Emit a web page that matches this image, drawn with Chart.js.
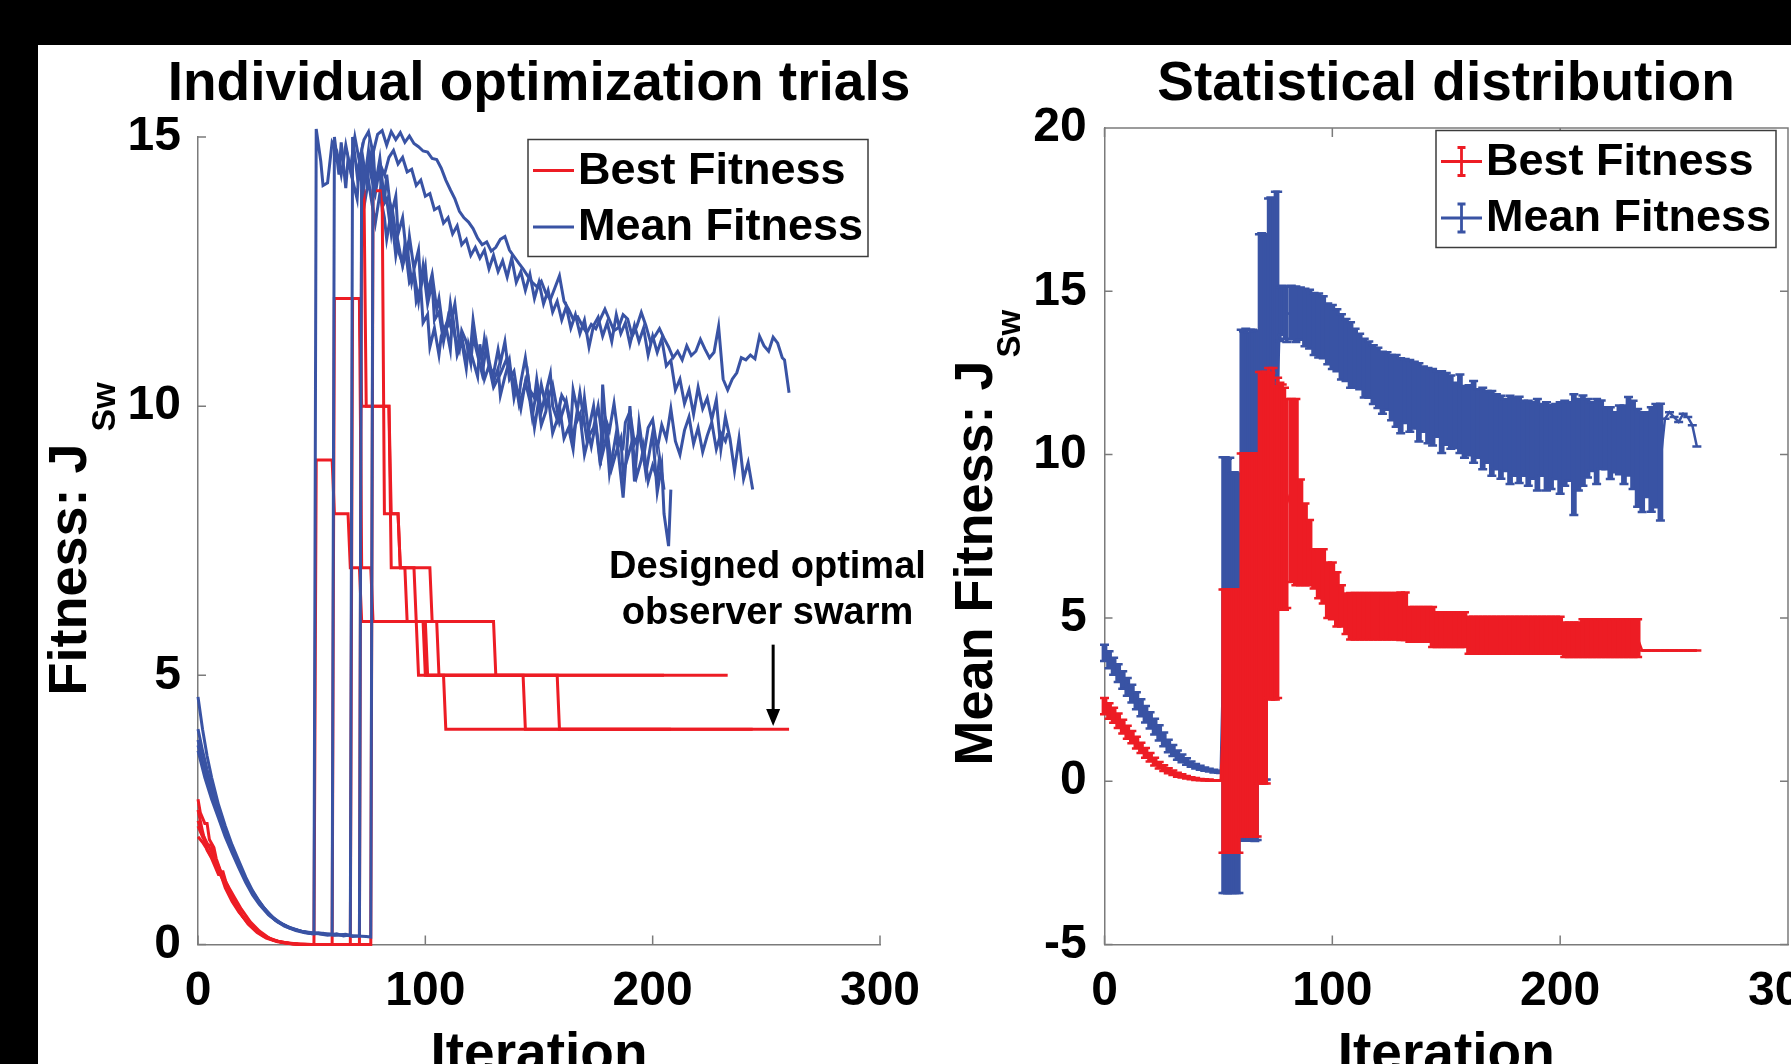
<!DOCTYPE html>
<html>
<head>
<meta charset="utf-8">
<title>Individual optimization trials / Statistical distribution</title>
<script src="https://cdn.jsdelivr.net/npm/chart.js@4.4.1/dist/chart.umd.min.js"></script>
<style>
  html, body { margin: 0; padding: 0; overflow: hidden; background: #000; }
  body { width: 1791px; height: 1064px; position: relative; }
  #paper { position: absolute; left: 38px; top: 45px; width: 1753px; height: 1019px; background: #fff; }
  #leftBox { position: absolute; left: 38px; top: 45px; }
  #rightBox { position: absolute; left: 930px; top: 45px; }
  canvas { display: block; }
</style>
</head>
<body>
<div id="paper"></div>
<div id="leftBox"><canvas id="trialsChart" width="1002" height="1046"></canvas></div>
<div id="rightBox"><canvas id="statsChart" width="1032" height="1046"></canvas></div>
<script>
//----------------------------------------------------------
// Fitness of five observer-swarm optimisation trials (left)
// and their mean +/- std per iteration (right).
//----------------------------------------------------------

const seriesLabels = ['Best Fitness', 'Mean Fitness'];
const xTickValues = [0, 100, 200, 300];
const leftYTicks = [0, 5, 10, 15];
const rightYTicks = [-5, 0, 5, 10, 15, 20];

// Left panel: [iteration, fitness] per trial.
const bestFitnessTrial1 = [[0,2.7],[1,2.45],[3,2.25],[4,2.25],[5,1.95],[7,1.8],[8,1.6],[10,1.35],[11,1.35],[13,1.05],[16,0.78],[19,0.56],[22,0.38],[26,0.22],[30,0.12],[35,0.05],[40,0.02],[45,0],[51,0],
  [52,9],[59,9],[60,8],[66,8],[67,7],[71,7],[72,6],[96,6],[97,5],[108,5],[109,4],[260,4]];
const bestFitnessTrial2 = [[0,2.2],[2,2.0],[4,1.85],[6,1.85],[7,1.55],[9,1.45],[12,1.1],[13,1.1],[15,0.85],[18,0.62],[21,0.45],[25,0.28],[29,0.15],[34,0.07],[40,0.02],[48,0],[59,0],
  [60,12],[71,12],[72,10],[84,10],[85,8],[88,8],[89,7],[102,7],[103,6],[105,6],[106,5],[233,5]];
const bestFitnessTrial3 = [[0,2.5],[2,2.1],[4,1.75],[6,1.6],[9,1.3],[10,1.3],[12,1.05],[15,0.8],[18,0.6],[22,0.4],[26,0.25],[30,0.14],[35,0.06],[42,0.01],[50,0],[67,0],
  [68,12],[71,12],[72,7],[76,7],[77,6],[99,6],[100,5],[143,5],[144,4],[244,4]];
const bestFitnessTrial4 = [[0,2.0],[2,1.9],[5,1.7],[8,1.45],[11,1.2],[14,0.95],[17,0.7],[20,0.5],[24,0.32],[28,0.18],[33,0.08],[38,0.03],[45,0],[71,0],
  [72,14],[73,14],[74,10],[84,10],[85,7],[91,7],[92,6],[100,6],[101,5],[158,5],[159,4],[208,4]];
const bestFitnessTrial5 = [[0,2.3],[2,2.05],[5,1.8],[8,1.55],[10,1.35],[13,1.1],[16,0.88],[19,0.66],[23,0.42],[27,0.25],[32,0.1],[37,0.04],[44,0.01],[50,0],[76,0],
  [77,14],[81,14],[82,8],[88,8],[89,7],[95,7],[96,6],[130,6],[131,5],[205,5]];

const meanFitnessTrial1 = [[0,4.6],[2,4.0],[4,3.5],[6,3.1],[9,2.6],[12,2.2],[15,1.85],[18,1.55],[21,1.25],[24,1.0],[27,0.8],[30,0.62],[34,0.45],[38,0.34],[43,0.26],[47,0.22],[51,0.2],
  [52,15.15],[54,14.55],[55,14.1],[57,14.15],[59,14.9],[61,14.75],[63,14.3],[65,14.85],[67,14.4],[69,15.0],[71,14.55],[73,14.95],[75,15.1],[77,14.7],[79,15.05],[81,15.12],[83,14.85],[85,15.1],[87,14.95],[89,15.08],[91,14.9],[93,15.02],[95,14.88],[97,14.82],[99,14.74],
  [101,14.72],[103,14.6],[105,14.58],[107,14.42],[109,14.2],[111,14.02],[113,13.85],[115,13.62],[117,13.5],[119,13.42],[121,13.3],[123,13.12],[125,13.0],[127,13.05],[129,12.88],[131,12.95],[133,13.1],[135,13.15],[137,12.9],[139,12.78],[141,12.66],[143,12.55],[145,12.42],[147,12.3],[149,12.22],
  [151,12.32],[153,12.1],[155,11.98],[157,12.2],[159,12.42],[161,11.95],[163,11.8],[165,11.62],[167,11.66],[169,11.5],[171,11.36],[173,11.52],[175,11.44],[177,11.62],[179,11.8],[181,11.6],[183,11.4],[185,11.46],[187,11.7],[189,11.62],[191,11.3],[193,11.48],[195,11.74],[197,11.5],[199,11.2],
  [201,11.3],[203,11.44],[205,11.26],[207,11.1],[209,10.9],[211,11.02],[213,10.86],[215,11.12],[217,10.94],[219,11.02],[221,11.24],[223,11.06],[225,10.9],[227,11.0],[229,11.48],[231,10.5],[233,10.3],[235,10.5],[237,10.62],[239,10.9],[241,10.86],[243,10.95],[245,10.88],[247,11.3],[249,11.12],
  [251,11.02],[253,11.28],[255,11.17],[257,10.9],[258,10.86],[260,10.25]];
const meanFitnessTrial2 = [[0,4.0],[2,3.6],[4,3.25],[7,2.8],[10,2.4],[13,2.0],[16,1.7],[19,1.4],[22,1.12],[25,0.9],[28,0.72],[32,0.52],[36,0.4],[41,0.3],[46,0.24],[50,0.21],[53,0.22],[56,0.19],[59,0.2],
  [60,15.0],[62,14.3],[63,14.9],[65,14.05],[66,14.6],[68,14.2],[70,13.85],[71,14.55],[73,13.7],[75,14.2],[76,13.9],[78,13.4],[80,13.95],[82,13.5],[83,13.1],[85,13.6],[87,12.8],[88,13.05],[90,12.6],[92,12.95],[94,12.3],[95,12.5],[97,11.95],[99,12.6],
  [101,11.9],[103,12.3],[104,11.6],[106,11.75],[108,11.2],[110,11.65],[111,11.5],[113,11.9],[115,11.15],[116,11.3],[118,10.85],[120,11.1],[121,11.6],[123,11.0],[125,10.9],[126,11.25],[128,10.75],[130,10.6],[132,11.05],[133,10.8],[135,11.2],[137,10.5],[139,10.65],[141,10.1],[142,10.45],[144,10.9],
  [146,10.3],[148,10.15],[149,10.5],[151,9.9],[153,10.25],[155,10.6],[156,10.0],[158,9.75],[160,10.2],[162,10.05],[164,9.6],[165,10.3],[167,9.9],[169,9.7],[170,10.15],[172,9.45],[174,9.6],[176,10.0],[178,9.35],[179,9.8],[181,9.55],[183,10.05],[185,9.4],[187,9.25],[188,9.7],[190,9.9],
  [192,9.3],[194,9.5],[196,9.05],[198,9.6],[200,9.75],[202,9.2],[204,9.65],[206,9.4],[208,9.95],[210,9.35],[212,9.1],[214,9.55],[216,9.8],[218,9.3],[220,9.6],[222,9.15],[224,9.45],[226,9.7],[228,9.2],[230,9.5],[232,9.35],[233,9.5]];
const meanFitnessTrial3 = [[0,3.8],[2,3.4],[5,2.95],[8,2.55],[11,2.2],[14,1.9],[17,1.6],[20,1.3],[23,1.05],[26,0.85],[29,0.68],[33,0.5],[37,0.38],[42,0.28],[48,0.22],[53,0.2],[57,0.17],[61,0.2],[64,0.16],[67,0.18],
  [68,15.0],[70,14.3],[72,14.75],[74,14.2],[76,14.65],[78,14.05],[80,14.5],[82,14.3],[84,14.62],[86,14.75],[88,14.5],[90,14.62],[92,14.35],[94,14.4],[96,14.1],[98,14.2],[100,13.9],
  [102,13.95],[104,13.65],[106,13.7],[108,13.4],[110,13.5],[112,13.2],[114,13.35],[116,13.0],[118,13.1],[120,12.8],[122,12.95],[124,12.75],[126,12.9],[128,12.55],[130,12.8],[132,12.5],[134,12.7],[136,12.4],[138,12.75],[140,12.3],[142,12.5],[144,12.15],[146,12.45],[148,12.0],[150,12.3],
  [152,11.9],[154,12.15],[156,11.75],[158,11.95],[160,11.6],[162,11.85],[164,11.45],[166,11.7],[168,11.35],[170,11.6],[172,11.1],[174,11.5],[176,11.65],[178,11.3],[180,11.55],[182,11.2],[184,11.7],[186,11.35],[188,11.55],[190,11.15],[192,11.5],[194,11.2],[196,11.45],[198,10.95],[200,11.3],
  [202,11.0],[204,11.25],[206,10.75],[208,10.85],[210,10.3],[212,10.5],[214,10.05],[216,10.3],[218,9.85],[220,10.35],[222,9.95],[224,10.15],[226,9.75],[228,10.12],[230,9.2],[232,9.8],[234,9.4],[236,8.8],[238,9.4],[240,8.65],[242,8.95],[244,8.45]];
const meanFitnessTrial4 = [[0,3.7],[3,3.2],[6,2.8],[9,2.45],[12,2.1],[15,1.78],[18,1.5],[21,1.2],[24,0.98],[27,0.78],[31,0.58],[35,0.43],[40,0.32],[45,0.25],[50,0.2],[55,0.21],[60,0.17],[65,0.19],[68,0.15],[71,0.16],
  [72,14.6],[73,14.1],[75,14.75],[76,14.3],[78,13.95],[80,14.45],[81,13.7],[83,13.85],[85,13.2],[86,13.5],[88,12.9],[90,12.65],[91,13.0],[93,12.3],[95,12.45],[96,11.95],[98,12.2],[99,11.55],[101,11.7],[102,11.1],
  [104,11.45],[106,10.95],[107,11.3],[109,11.5],[111,11.05],[112,11.7],[114,10.95],[116,11.2],[118,10.7],[119,11.15],[121,10.85],[123,10.55],[124,11.15],[126,10.5],[128,10.75],[130,10.35],[133,10.6],[136,10.9],[139,10.4],[142,10.1],
  [145,10.6],[148,9.6],[151,10.4],[153,10.0],[156,10.4],[159,9.7],[162,10.1],[165,9.4],[168,10.25],[171,9.4],[174,10.0],[177,8.9],[178,10.4],[181,8.75],[184,9.5],[187,8.3],[190,10.0],[192,8.6],[194,9.7],[197,8.75],
  [200,9.5],[202,8.4],[204,8.9],[205,8.0],[207,7.4],[208,8.45]];
const meanFitnessTrial5 = [[0,3.6],[3,3.1],[6,2.7],[9,2.35],[12,2.0],[15,1.7],[18,1.42],[21,1.15],[24,0.92],[27,0.74],[31,0.55],[35,0.42],[40,0.31],[46,0.24],[52,0.21],[58,0.18],[64,0.17],[70,0.16],[74,0.15],[76,0.14],
  [77,14.8],[78,14.1],[80,14.6],[82,13.8],[83,14.3],[85,13.55],[87,13.9],[88,13.2],[90,13.5],[92,12.7],[93,13.15],[95,12.55],[97,12.9],[98,12.2],[100,12.6],
  [101,12.1],[103,12.45],[105,11.8],[106,12.0],[108,11.35],[110,11.5],[111,11.9],[113,11.3],[115,11.05],[116,11.4],[118,11.2],[120,10.8],[121,11.3],[123,10.95],[125,10.6],[127,11.15],[128,10.85],[130,10.45],[132,10.7],[133,10.2],
  [135,10.55],[137,10.85],[139,10.15],[140,10.35],[142,9.95],[144,10.45],[146,10.1],[147,9.8],[149,10.3],[151,9.65],[153,9.9],[154,10.2],[156,9.5],[158,9.75],[159,10.0],[161,9.4],[163,9.6],[165,9.2],[166,9.65],[168,9.85],
  [170,9.1],[172,9.45],[173,9.25],[175,9.7],[177,8.95],[179,9.3],[180,9.55],[182,8.85],[184,9.15],[186,9.4],[187,8.75],[189,9.05],[191,9.35],[193,8.7],[195,9.0],[196,9.25],[198,8.6],[200,8.9],[202,8.65],[203,9.05],[205,8.45]];

// Right panel: [iteration, mean, std].
const meanFitnessStats = [
  [0,3.93,0.25],[2,3.72,0.26],[4,3.52,0.26],[6,3.31,0.27],[8,3.1,0.27],[10,2.89,0.27],[12,2.68,0.27],[14,2.46,0.26],[16,2.25,0.26],[18,2.05,0.25],
  [20,1.86,0.25],[22,1.67,0.24],[24,1.48,0.23],[26,1.28,0.21],[28,1.08,0.19],[30,0.94,0.17],[32,0.8,0.14],[34,0.7,0.12],[36,0.6,0.1],[38,0.52,0.08],
  [40,0.46,0.07],[42,0.41,0.06],[44,0.37,0.05],[46,0.34,0.04],[48,0.31,0.04],[50,0.29,0.03],
  [51,0.28,0.03],[52,3.25,6.67],[53,3.25,6.67],[54,3.22,6.65],[55,3.24,6.66],[56,3.0,6.42],[57,3.02,6.44],[58,2.98,6.4],[59,3.0,6.42],
  [60,6.0,7.82],[61,5.98,7.8],[62,6.03,7.82],[63,5.96,7.78],[64,6.02,7.8],[65,6.0,7.82],[66,5.97,7.8],[67,6.0,7.8],
  [68,8.4,8.35],[69,8.42,8.36],[70,8.38,8.34],[71,8.4,8.35],[72,11.8,6.04],[73,11.82,6.05],[74,11.8,6.04],[75,11.9,6.15],[76,11.9,6.15],
  [77,14.3,0.82],[78,14.42,0.75],[79,14.35,0.8],[80,14.3,0.85],
  [82,14.35,0.82],[84,14.3,0.85],[86,14.32,0.8],[88,14.2,0.88],[90,14.15,0.9],[92,14.0,0.95],[94,13.95,0.98],[96,13.9,0.95],[98,13.7,0.93],[100,13.6,0.98],
  [102,13.5,0.95],[104,13.3,1.0],[106,13.2,0.95],[108,13.05,1.0],[110,12.95,0.9],[112,12.85,0.85],[114,12.65,0.9],[116,12.6,0.86],[118,12.45,0.9],[120,12.35,0.92],
  [122,12.2,0.95],[124,12.25,0.88],[126,12.05,1.0],[128,11.95,1.1],[130,11.8,1.15],[132,11.95,0.98],[134,11.8,1.1],[136,11.82,1.02],[138,11.6,1.2],[140,11.7,1.0],
  [142,11.5,1.15],[144,11.45,1.17],[146,11.55,1.0],[148,11.3,1.25],[150,11.4,1.1],[152,11.3,1.12],[154,11.2,1.0],[156,11.25,1.2],[158,11.0,1.1],[160,11.05,1.07],
  [162,11.0,1.25],[164,10.95,1.05],[166,10.8,1.25],[168,10.85,1.1],[170,10.65,1.3],[172,10.7,1.15],[174,10.53,1.27],[176,10.6,1.1],[178,10.45,1.35],[180,10.55,1.2],
  [182,10.45,1.32],[184,10.5,1.15],[186,10.35,1.3],[188,10.43,1.17],[190,10.3,1.4],[192,10.45,1.1],[194,10.25,1.35],[196,10.23,1.28],[198,10.4,1.15],[200,10.2,1.4],
  [202,10.35,1.3],[204,10.4,1.2],[206,10.0,1.85],[208,10.3,1.4],[210,10.43,1.38],[212,10.5,1.2],[214,10.55,1.05],[216,10.4,1.3],[218,10.61,1.05],[220,10.5,0.95],
  [222,10.35,1.1],[224,10.38,0.92],[226,10.45,1.05],[228,10.3,1.2],[230,10.56,1.2],[232,10.3,1.35],[234,9.9,1.5],[236,9.77,1.53],[238,10.0,1.3],[240,9.85,1.6],
  [242,9.97,1.58],[244,9.77,1.79],[246,11.1,0],[248,11.3,0],[250,11.15,0],[252,11.0,0],[254,11.25,0],[256,11.15,0],[258,10.9,0],[260,10.25,0]
];
const bestFitnessStats = [
  [0,2.3,0.25],[2,2.15,0.24],[4,2.02,0.23],[6,1.85,0.22],[8,1.67,0.21],[10,1.5,0.2],[12,1.35,0.19],[14,1.18,0.18],[16,1.02,0.16],[18,0.87,0.15],
  [20,0.73,0.13],[22,0.6,0.12],[24,0.49,0.1],[26,0.4,0.09],[28,0.32,0.08],[30,0.26,0.07],[32,0.2,0.06],[34,0.16,0.05],[36,0.12,0.04],[38,0.09,0.03],
  [40,0.07,0.03],[42,0.05,0.02],[44,0.04,0.02],[46,0.03,0.02],[48,0.02,0.01],[50,0.02,0.01],
  [51,0.02,0.01],[52,1.84,4.03],[53,1.84,4.03],[54,1.84,4.03],[55,1.84,4.03],[56,1.84,4.03],[57,1.84,4.03],[58,1.84,4.03],[59,1.84,4.03],
  [60,4.17,5.86],[61,4.17,5.86],[62,4.17,5.86],[63,4.17,5.86],[64,4.17,5.86],[65,4.17,5.86],[66,4.17,5.86],[67,4.17,5.86],
  [68,6.23,6.3],[69,6.23,6.3],[70,6.23,6.3],[71,6.23,6.3],[72,7.6,5.05],[73,7.5,5.0],[74,7.58,5.07],[75,7.3,4.8],[76,7.45,4.9],
  [77,8.75,3.45],[78,8.7,3.45],[79,8.65,3.4],[80,8.5,3.2],
  [82,8.9,2.8],[84,8.85,2.85],[86,7.62,1.62],[88,7.25,1.25],[90,7.0,1.0],[92,6.5,0.6],[94,6.35,0.75],[96,6.27,0.83],[98,5.85,0.85],[100,5.83,0.87],
  [102,5.57,0.83],[104,5.37,0.63],[106,5.13,0.62],[108,5.05,0.71],[110,5.05,0.71],[112,5.05,0.71],[114,5.05,0.71],[116,5.05,0.71],[118,5.05,0.71],[120,5.05,0.71],
  [122,5.05,0.71],[124,5.05,0.71],[126,5.05,0.71],[128,5.05,0.71],[130,5.05,0.73],[132,5.05,0.73],[134,4.8,0.53],[136,4.8,0.53],[138,4.8,0.53],[140,4.8,0.53],
  [142,4.8,0.53],[144,4.72,0.61],[146,4.64,0.53],[148,4.64,0.53],[150,4.64,0.53],[152,4.64,0.53],[154,4.64,0.53],[156,4.64,0.53],[158,4.64,0.53],[160,4.47,0.565],
  [162,4.47,0.565],[164,4.47,0.565],[166,4.47,0.565],[168,4.47,0.565],[170,4.47,0.565],[172,4.47,0.565],[174,4.47,0.565],[176,4.47,0.565],[178,4.47,0.565],[180,4.47,0.565],
  [182,4.47,0.565],[184,4.47,0.565],[186,4.47,0.565],[188,4.47,0.565],[190,4.47,0.565],[192,4.47,0.565],[194,4.47,0.565],[196,4.47,0.565],[198,4.47,0.565],[200,4.47,0.565],
  [202,4.33,0.53],[204,4.33,0.53],[206,4.33,0.53],[208,4.33,0.53],[210,4.38,0.58],[212,4.38,0.58],[214,4.38,0.58],[216,4.38,0.58],[218,4.38,0.58],[220,4.38,0.58],
  [222,4.38,0.58],[224,4.38,0.58],[226,4.38,0.58],[228,4.38,0.58],[230,4.38,0.58],[232,4.38,0.58],[234,4.38,0.58],[236,4.0,0],[238,4.0,0],[240,4.0,0],
  [242,4.0,0],[244,4.0,0],[246,4.0,0],[248,4.0,0],[250,4.0,0],[252,4.0,0],[254,4.0,0],[256,4.0,0],[258,4.0,0],[260,4.0,0]
];

// Annotation: text position and arrow, in data units.
const noteLines = ['Designed optimal', 'observer swarm'];
const noteAt = [250.5, 7.0];
const noteArrow = {x: 253, from: 5.57, to: 4.06};

const FONT = '"Liberation Sans", Arial, Helvetica, sans-serif';
const RED = '#ed1c24';
const BLUE = '#3953a4';
const AXIS_GRAY = '#7b7b7b';

Chart.defaults.font.family = FONT;
Chart.defaults.font.weight = 'bold';
Chart.defaults.color = '#000';

// Helper: one plain line dataset from [x, y] pairs.
function lineDataset(label, points, color) {
  return {
    label: label,
    data: points.map(p => ({x: p[0], y: p[1]})),
    borderColor: color,
    backgroundColor: color,
    borderWidth: 3,
    pointRadius: 0,
    tension: 0,
    fill: false,
    clip: false
  };
}

// Helper: mean line with per-point std, drawn as error bars by errorBarPlugin.
function statDataset(label, rows, color, order) {
  return {
    label: label,
    data: rows.map(r => ({x: r[0], y: r[1]})),
    errors: rows.map(r => r[2]),
    borderColor: color,
    backgroundColor: color,
    borderWidth: 2.5,
    pointRadius: 0,
    tension: 0,
    fill: false,
    order: order
  };
}

// Axes shared by both panels. An empty right-hand axis of the same width as the
// left one keeps the plot box where the figure has it and centres the title on it.
function panelScales(yMin, yMax, yTicks, leftWidth, rightWidth, yPadding) {
  return {
    x: {
      type: 'linear', min: 0, max: 300,
      afterBuildTicks: s => { s.ticks = xTickValues.map(v => ({value: v})); },
      afterFit: s => { s.height = 146.5; },
      grid: {display: false, drawTicks: false},
      border: {display: true, color: AXIS_GRAY, width: 1.5},
      ticks: {color: '#000', font: {size: 48, weight: 'bold'}, padding: 18, maxRotation: 0, autoSkip: false},
      title: {display: true, text: 'Iteration', color: '#000', font: {size: 55, weight: 'bold'}, padding: {top: 0, bottom: 2.5}}
    },
    y: {
      type: 'linear', min: yMin, max: yMax,
      afterBuildTicks: s => { s.ticks = yTicks.map(v => ({value: v})); },
      afterFit: s => { s.width = leftWidth; },
      grid: {display: false, drawTicks: false},
      border: {display: true, color: AXIS_GRAY, width: 1.5},
      ticks: {color: '#000', font: {size: 48, weight: 'bold'}, padding: yPadding, autoSkip: false}
    },
    spacer: {
      type: 'linear', position: 'right', min: 0, max: 1,
      afterFit: s => { s.width = rightWidth; },
      grid: {display: false, drawTicks: false},
      border: {display: false},
      ticks: {display: false}
    }
  };
}

// MATLAB-like inward tick marks, optional full box.
function axesPlugin(box) {
  return {
    id: 'insideTicks',
    afterDatasetsDraw(chart) {
      const {ctx, chartArea: a} = chart;
      const xs = chart.scales.x, ys = chart.scales.y;
      ctx.save();
      ctx.strokeStyle = AXIS_GRAY;
      ctx.lineWidth = 1.5;
      ctx.beginPath();
      xs.ticks.forEach(t => {
        const px = xs.getPixelForValue(t.value);
        ctx.moveTo(px, a.bottom); ctx.lineTo(px, a.bottom - 9);
        if (box) { ctx.moveTo(px, a.top); ctx.lineTo(px, a.top + 9); }
      });
      ys.ticks.forEach(t => {
        const py = ys.getPixelForValue(t.value);
        ctx.moveTo(a.left, py); ctx.lineTo(a.left + 8, py);
        if (box) { ctx.moveTo(a.right, py); ctx.lineTo(a.right - 8, py); }
      });
      if (box) {
        ctx.moveTo(a.left, a.top); ctx.lineTo(a.right, a.top); ctx.lineTo(a.right, a.bottom);
      }
      ctx.stroke();
      ctx.restore();
    }
  };
}

// Rotated y-axis label with a subscript (Chart.js titles have no subscripts).
function yLabelPlugin(text, sub, dx, dy, subSize, gap) {
  return {
    id: 'yLabel',
    afterDraw(chart) {
      const {ctx, chartArea: a} = chart;
      ctx.save();
      ctx.translate(a.left - dx, a.bottom - dy);
      ctx.rotate(-Math.PI / 2);
      ctx.fillStyle = '#000';
      ctx.textAlign = 'left';
      ctx.textBaseline = 'alphabetic';
      ctx.font = 'bold 54px ' + FONT;
      ctx.fillText(text, 0, 0);
      const w = ctx.measureText(text).width;
      ctx.font = 'bold ' + subSize + 'px ' + FONT;
      ctx.fillText(sub, w + gap, 28.5);
      ctx.restore();
    }
  };
}

// Boxed legend in the upper right corner of the plot.
function legendPlugin(symbol) {
  return {
    id: 'boxLegend',
    afterDraw(chart) {
      const {ctx, chartArea: a} = chart;
      const w = 340, h = 117;
      const left = a.right - 12 - w, top = a.top + 2.5;
      ctx.save();
      ctx.fillStyle = '#fff';
      ctx.fillRect(left, top, w, h);
      ctx.strokeStyle = '#3c3c3c';
      ctx.lineWidth = 1.5;
      ctx.strokeRect(left, top, w, h);
      ctx.font = 'bold 45px ' + FONT;
      ctx.textAlign = 'left';
      ctx.textBaseline = 'middle';
      [RED, BLUE].forEach((color, i) => {
        const cy = top + 31 + i * 56.5;
        ctx.strokeStyle = color;
        ctx.lineWidth = 2.8;
        ctx.beginPath();
        ctx.moveTo(left + 5, cy); ctx.lineTo(left + 46, cy);
        if (symbol === 'errorbar') {
          const cx = left + 25.5;
          ctx.moveTo(cx, cy - 14); ctx.lineTo(cx, cy + 14);
          ctx.moveTo(cx - 4, cy - 14); ctx.lineTo(cx + 4, cy - 14);
          ctx.moveTo(cx - 4, cy + 14); ctx.lineTo(cx + 4, cy + 14);
        }
        ctx.stroke();
        ctx.fillStyle = '#000';
        ctx.fillText(seriesLabels[i], left + 50, cy + 1);
      });
      ctx.restore();
    }
  };
}

// Vertical error bars with caps, drawn right after their own dataset.
const errorBarPlugin = {
  id: 'errorBars',
  afterDatasetDraw(chart, args) {
    const ds = chart.data.datasets[args.index];
    if (!ds.errors) return;
    const {ctx} = chart;
    const xs = chart.scales.x, ys = chart.scales.y;
    const pts = ds.data;
    ctx.save();
    ctx.strokeStyle = ds.borderColor;
    for (let i = 0; i < pts.length; i++) {
      const px = xs.getPixelForValue(pts[i].x);
      const prev = i > 0 ? px - xs.getPixelForValue(pts[i - 1].x) : Infinity;
      const next = i < pts.length - 1 ? xs.getPixelForValue(pts[i + 1].x) - px : Infinity;
      const barW = Math.max(2.5, Math.min(5.8, prev + 1.2, next + 1.2));
      const lo = ys.getPixelForValue(pts[i].y - ds.errors[i]);
      const hi = ys.getPixelForValue(pts[i].y + ds.errors[i]);
      ctx.lineWidth = barW;
      ctx.beginPath();
      ctx.moveTo(px, lo); ctx.lineTo(px, hi);
      ctx.stroke();
      ctx.lineWidth = 2.5;
      ctx.beginPath();
      ctx.moveTo(px - 4.5, lo); ctx.lineTo(px + 4.5, lo);
      ctx.moveTo(px - 4.5, hi); ctx.lineTo(px + 4.5, hi);
      ctx.stroke();
    }
    ctx.restore();
  }
};

// Text and arrow pointing at the chosen swarm.
const notePlugin = {
  id: 'swarmNote',
  afterDatasetsDraw(chart) {
    const {ctx} = chart;
    const xs = chart.scales.x, ys = chart.scales.y;
    ctx.save();
    ctx.fillStyle = '#000';
    ctx.font = 'bold 38px ' + FONT;
    ctx.textAlign = 'center';
    ctx.textBaseline = 'middle';
    noteLines.forEach((t, i) => {
      ctx.fillText(t, xs.getPixelForValue(noteAt[0]), ys.getPixelForValue(noteAt[1] - i * 0.85));
    });
    const ax = xs.getPixelForValue(noteArrow.x);
    const y0 = ys.getPixelForValue(noteArrow.from);
    const y1 = ys.getPixelForValue(noteArrow.to);
    ctx.strokeStyle = '#000';
    ctx.lineWidth = 3;
    ctx.beginPath();
    ctx.moveTo(ax, y0); ctx.lineTo(ax, y1 - 14);
    ctx.stroke();
    ctx.beginPath();
    ctx.moveTo(ax, y1); ctx.lineTo(ax - 7, y1 - 17); ctx.lineTo(ax + 7, y1 - 17);
    ctx.closePath();
    ctx.fill();
    ctx.restore();
  }
};

// Left panel: each trial plotted red then blue, later trials on top.
const trials = [
  [bestFitnessTrial1, meanFitnessTrial1],
  [bestFitnessTrial2, meanFitnessTrial2],
  [bestFitnessTrial3, meanFitnessTrial3],
  [bestFitnessTrial4, meanFitnessTrial4],
  [bestFitnessTrial5, meanFitnessTrial5]
];
const trialDatasets = [];
trials.forEach(([best, mean], t) => {
  trialDatasets.push(lineDataset(seriesLabels[0] + ' ' + (t + 1), best, RED));
  trialDatasets.push(lineDataset(seriesLabels[1] + ' ' + (t + 1), mean, BLUE));
});
trialDatasets.forEach((ds, k) => { ds.order = trialDatasets.length - k; });

new Chart(document.getElementById('trialsChart'), {
  type: 'line',
  data: {datasets: trialDatasets},
  options: {
    responsive: false,
    animation: false,
    events: [],
    layout: {padding: 0},
    plugins: {
      legend: {display: false},
      tooltip: {enabled: false},
      title: {display: true, text: 'Individual optimization trials', color: '#000',
              font: {size: 55, weight: 'bold'}, padding: {top: 7, bottom: 19}}
    },
    scales: panelScales(0, 15, leftYTicks, 160, 160, 17)
  },
  plugins: [axesPlugin(false), notePlugin, yLabelPlugin('Fitness: J', 'Sw', 111.7, 249, 34, 12), legendPlugin('line')]
});

// Right panel: mean +/- std over the trials.
new Chart(document.getElementById('statsChart'), {
  type: 'line',
  data: {
    datasets: [
      statDataset(seriesLabels[0], bestFitnessStats, RED, 1),
      statDataset(seriesLabels[1], meanFitnessStats, BLUE, 2)
    ]
  },
  options: {
    responsive: false,
    animation: false,
    events: [],
    layout: {padding: 0},
    plugins: {
      legend: {display: false},
      tooltip: {enabled: false},
      title: {display: true, text: 'Statistical distribution', color: '#000',
              font: {size: 55, weight: 'bold'}, padding: {top: 7, bottom: 10}}
    },
    scales: panelScales(-5, 20, rightYTicks, 174.5, 174, 17.8)
  },
  plugins: [errorBarPlugin, axesPlugin(true), yLabelPlugin('Mean Fitness: J', 'Sw', 112.8, 179, 33, 3), legendPlugin('errorbar')]
});
</script>
</body>
</html>
